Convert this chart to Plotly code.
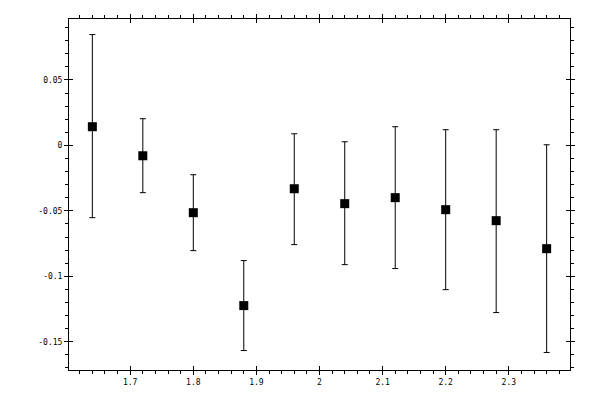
import plotly.graph_objects as go

x_vals = [1.64, 1.72, 1.80, 1.88, 1.96, 2.04, 2.12, 2.20, 2.28, 2.36]
y_vals = [0.0143, -0.0079, -0.0514, -0.1224, -0.0331, -0.0445, -0.0399, -0.0491, -0.0575, -0.0789]
err_up = [0.0704, 0.0283, 0.0290, 0.0344, 0.0420, 0.0473, 0.0542, 0.0611, 0.0695, 0.0794]
err_down = [0.0695, 0.0282, 0.0290, 0.0343, 0.0427, 0.0466, 0.0542, 0.0611, 0.0702, 0.0793]

x_ticks = [1.7, 1.8, 1.9, 2.0, 2.1, 2.2, 2.3]
x_labels = ["1.7", "1.8", "1.9", "2", "2.1", "2.2", "2.3"]
y_ticks = [-0.15, -0.1, -0.05, 0, 0.05]
y_labels = ["-0.15", "-0.1", "-0.05", "0", "0.05"]

x_range = [1.603, 2.397]
y_range = [-0.1716, 0.0966]

fig = go.Figure()
fig.add_trace(go.Scatter(
    x=x_vals, y=y_vals, mode="markers",
    marker=dict(symbol="square", size=9, color="black"),
    error_y=dict(type="data", symmetric=False, array=err_up, arrayminus=err_down,
                 color="black", thickness=1, width=3),
    showlegend=False))
# invisible copy on the overlay axes so the inner half of the major ticks gets drawn
fig.add_trace(go.Scatter(
    x=x_vals, y=y_vals, mode="markers", xaxis="x2", yaxis="y2",
    marker=dict(opacity=0), hoverinfo="skip", showlegend=False))

axis_font = dict(family="DejaVu Sans Mono", size=8, color="black")
# page body adds an 8px margin, so the figure is 584x384 and margins are shifted
fig.update_layout(
    width=584, height=384,
    margin=dict(l=61, r=22, t=11, b=22),
    paper_bgcolor="white", plot_bgcolor="white",
    font=axis_font,
    xaxis=dict(range=x_range, tickvals=x_ticks, ticktext=x_labels, automargin=False,
               ticks="outside", ticklen=4, tickwidth=1, tickcolor="black",
               minor=dict(dtick=0.02, ticks="outside", ticklen=3, tickcolor="black"),
               showline=True, linecolor="black", linewidth=1, mirror="allticks",
               showgrid=False, zeroline=False, tickfont=axis_font),
    yaxis=dict(range=y_range, tickvals=y_ticks, ticktext=y_labels, automargin=False,
               ticks="outside", ticklen=4, tickwidth=1, tickcolor="black",
               minor=dict(dtick=0.01, ticks="outside", ticklen=3, tickcolor="black"),
               showline=True, linecolor="black", linewidth=1, mirror="allticks",
               showgrid=False, zeroline=False, tickfont=axis_font),
    xaxis2=dict(range=x_range, overlaying="x", tickvals=x_ticks, showticklabels=False,
                ticks="inside", ticklen=4, tickwidth=1, tickcolor="black", automargin=False,
                mirror="allticks", showgrid=False, zeroline=False, showline=False),
    yaxis2=dict(range=y_range, overlaying="y", tickvals=y_ticks, showticklabels=False,
                ticks="inside", ticklen=4, tickwidth=1, tickcolor="black", automargin=False,
                mirror="allticks", showgrid=False, zeroline=False, showline=False),
)

fig.write_html("out.html")
